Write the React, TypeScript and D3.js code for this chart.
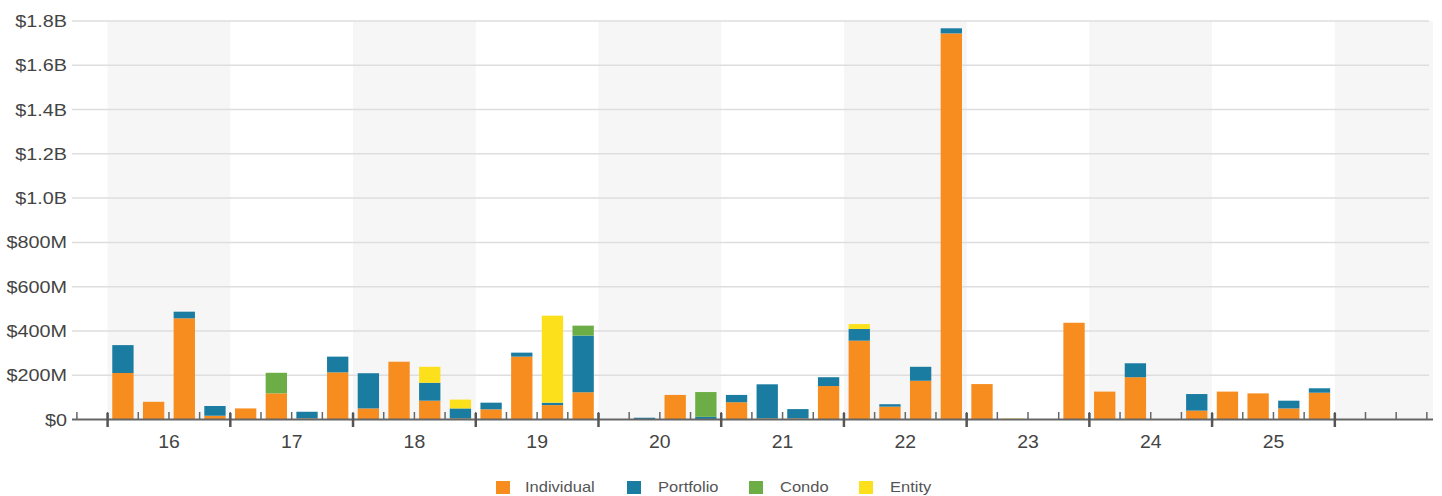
import React from "react";
import * as d3 from "d3";

const years = ["16", "17", "18", "19", "20", "21", "22", "23", "24", "25"];
const quarterLabels = years.flatMap((y) => ["Q1", "Q2", "Q3", "Q4"].map((q) => `${y}${q}`));

const seriesNames = ["Individual", "Portfolio", "Condo", "Entity"];
const seriesColors = ["#f68d1e", "#1b7ca2", "#6cae45", "#fde01c"];

// values in $M, one per quarter 16Q1..25Q4
const individual = [
  210, 80, 457, 17,
  50, 118, 5, 213,
  50, 261, 85, 5,
  46, 284, 65, 123,
  0, 0, 111, 0,
  78, 5, 5, 151,
  356, 58, 175, 1744,
  160, 0, 0, 437,
  126, 191, 0, 40,
  126, 118, 50, 121,
];
const portfolio = [
  126, 0, 30, 44,
  0, 0, 30, 71,
  159, 0, 81, 45,
  30, 18, 11, 256,
  0, 8, 0, 12,
  33, 154, 42, 40,
  53, 11, 63, 23,
  0, 0, 0, 0,
  0, 63, 0, 75,
  0, 0, 35, 20,
];
const condo = [
  0, 0, 0, 0,
  0, 93, 0, 0,
  0, 0, 0, 0,
  0, 0, 0, 45,
  0, 0, 0, 112,
  0, 0, 0, 0,
  0, 0, 0, 0,
  0, 0, 0, 0,
  0, 0, 0, 0,
  0, 0, 0, 0,
];
const entity = [
  0, 0, 0, 0,
  0, 0, 0, 0,
  0, 0, 72, 40,
  0, 0, 393, 0,
  0, 0, 0, 0,
  0, 0, 0, 0,
  22, 0, 0, 0,
  0, 4, 0, 0,
  0, 0, 0, 0,
  0, 0, 0, 0,
];
const yTickValues = [0, 200, 400, 600, 800, 1000, 1200, 1400, 1600, 1800];
const yTickLabels = ["$0", "$200M", "$400M", "$600M", "$800M", "$1.0B", "$1.2B", "$1.4B", "$1.6B", "$1.8B"];

const W = 1442;
const H = 496;
const plotLeft = 72;
const plotRight = 1433;
const yBottom = 419.5;
const yTop = 21;

export default function App() {
  const rows = quarterLabels.map((q, i) => ({
    q,
    i,
    Individual: individual[i],
    Portfolio: portfolio[i],
    Condo: condo[i],
    Entity: entity[i],
  }));
  const stacked = d3.stack<any>().keys(seriesNames)(rows);

  // quarter index scale: 0 = start of 16Q1
  const x = d3.scaleLinear().domain([-1.16, 43.2]).range([plotLeft, plotRight]);
  const y = d3.scaleLinear().domain([0, 1800]).range([yBottom, yTop]);
  const slot = x(1) - x(0);
  const barW = slot * 0.695;

  const nBands = years.length + 1;
  const bands = d3.range(0, nBands, 2);
  const minorTicks = d3.range(-1, 44);
  const majorTicks = d3.range(0, years.length * 4 + 1, 4);

  const font = "'Liberation Sans', Arial, Helvetica, sans-serif";

  const legendItems = [
    { sx: 496, tx: 525 },
    { sx: 627, tx: 658 },
    { sx: 749, tx: 780 },
    { sx: 859, tx: 890 },
  ];

  return (
    <svg
      width={W}
      height={H}
      style={{ position: "absolute", left: 0, top: 0, background: "#fff" }}
      fontFamily={font}
    >
      <rect x={0} y={0} width={W} height={H} fill="#fff" />
      {bands.map((b) => (
        <rect
          key={b}
          x={x(b * 4)}
          y={yTop}
          width={Math.min(x(b * 4 + 4), plotRight) - x(b * 4)}
          height={yBottom - yTop}
          fill="#f6f6f6"
        />
      ))}
      {yTickValues.map((v) =>
        v === 0 ? null : (
          <line key={v} x1={plotLeft} x2={plotRight - 4} y1={y(v)} y2={y(v)} stroke="#dedede" strokeWidth={1.5} />
        )
      )}
      {yTickValues.map((v, i) => (
        <text
          key={v}
          transform={`translate(67,${y(v) + 6}) scale(1.2,1)`}
          textAnchor="end"
          fontSize={16.5}
          fill="#444"
        >
          {yTickLabels[i]}
        </text>
      ))}
      {stacked.map((s, si) => (
        <g key={s.key} fill={seriesColors[si]}>
          {s.map((d, i) =>
            d[1] - d[0] > 0 ? (
              <rect
                key={i}
                x={x(i + 0.5) - barW / 2}
                y={y(d[1])}
                width={barW}
                height={y(d[0]) - y(d[1])}
              />
            ) : null
          )}
        </g>
      ))}
      <line x1={plotLeft} x2={plotRight} y1={yBottom} y2={yBottom} stroke="#666" strokeWidth={2} />
      {minorTicks.map((t) => (
        <line key={t} x1={x(t)} x2={x(t)} y1={yBottom - 7.5} y2={yBottom} stroke="#666" strokeWidth={1.5} />
      ))}
      {majorTicks.map((t) => (
        <line key={t} x1={x(t)} x2={x(t)} y1={yBottom - 6.5} y2={yBottom + 7.5} stroke="#555" strokeWidth={2.5} />
      ))}
      {years.map((yr, i) => (
        <text
          key={yr}
          transform={`translate(${x(i * 4 + 2)},447.5) scale(1.08,1)`}
          textAnchor="middle"
          fontSize={18}
          fill="#444"
        >
          {yr}
        </text>
      ))}
      {seriesNames.map((n, i) => (
        <g key={n}>
          <rect x={legendItems[i].sx} y={481} width={14} height={13} fill={seriesColors[i]} />
          <text
            transform={`translate(${legendItems[i].tx},492) scale(1.18,1)`}
            fontSize={14}
            fill="#555"
          >
            {n}
          </text>
        </g>
      ))}
    </svg>
  );
}
